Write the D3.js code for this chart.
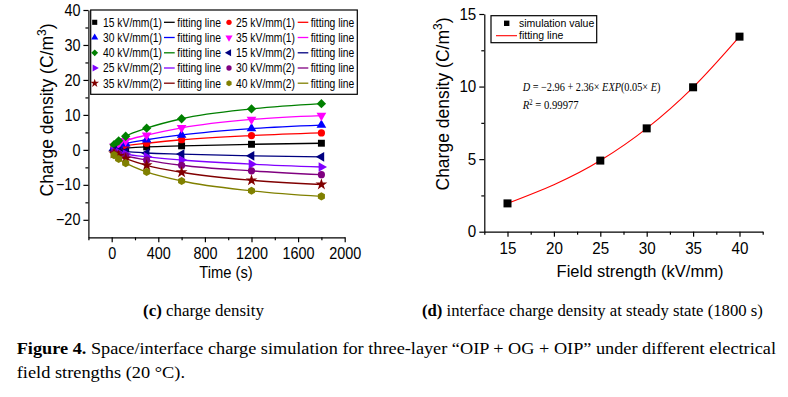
<!DOCTYPE html>
<html><head><meta charset="utf-8">
<script src="https://cdn.jsdelivr.net/npm/d3@7"></script>
<style>body{margin:0;background:#fff}svg{display:block}</style>
</head><body>
<svg id="c" width="788" height="397"></svg>
<script>
// ---------- data: panel (c) ----------
const times = [20, 60, 120, 300, 600, 1200, 1800];
const seriesLabels = ["15 kV/mm(1)", "25 kV/mm(1)", "30 kV/mm(1)", "35 kV/mm(1)", "40 kV/mm(1)",
                      "15 kV/mm(2)", "25 kV/mm(2)", "30 kV/mm(2)", "35 kV/mm(2)", "40 kV/mm(2)"];
const s15a = [0.2, 0.35, 0.5, 0.85, 1.15, 1.6, 1.9];
const s25a = [0.5, 0.8, 1.2, 1.9, 2.9, 4.1, 4.85];
const s30a = [0.7, 1.2, 1.8, 2.9, 4.3, 6.1, 7.1];
const s35a = [1.0, 1.7, 2.6, 4.2, 6.3, 8.7, 9.8];
const s40a = [1.5, 2.6, 3.9, 6.2, 8.9, 11.7, 13.2];
const s15b = [-0.2, -0.35, -0.5, -0.9, -1.2, -1.7, -2.0];
const s25b = [-0.5, -0.8, -1.2, -2.0, -2.9, -4.1, -4.9];
const s30b = [-0.7, -1.2, -1.7, -2.9, -4.4, -6.0, -7.1];
const s35b = [-1.0, -1.7, -2.5, -4.4, -6.4, -8.7, -9.9];
const s40b = [-1.5, -2.6, -3.8, -6.3, -8.9, -11.7, -13.3];
const seriesValues = [s15a, s25a, s30a, s35a, s40a, s15b, s25b, s30b, s35b, s40b];
const xTicksC = [0, 400, 800, 1200, 1600, 2000];
const xMinorC = [-200, 200, 600, 1000, 1400, 1800];
const yTicksC = [-20, -10, 0, 10, 20, 30, 40];
const yMinorC = [-15, -5, 5, 15, 25, 35];

// ---------- data: panel (d) ----------
const fields = [15, 25, 30, 35, 40];
const steadyDensity = [1.95, 4.9, 7.12, 9.95, 13.44];
const xTicksD = [15, 20, 25, 30, 35, 40];
const xMinorD = [12.5, 17.5, 22.5, 27.5, 32.5, 37.5, 42.5];
const yTicksD = [0, 5, 10, 15];
const yMinorD = [2.5, 7.5, 12.5];

// ---------- styles ----------
const colors = ["#000000", "#ff0000", "#0000ff", "#ff00ff", "#008000",
                "#000080", "#8000ff", "#800080", "#800000", "#808000"];
const hexagon = {draw(ctx, size) {
  const r = Math.sqrt(size / (1.5 * Math.sqrt(3)));
  for (let i = 0; i < 6; i++) {
    const a = Math.PI / 3 * i - Math.PI / 2;
    if (i === 0) ctx.moveTo(r * Math.cos(a), r * Math.sin(a)); else ctx.lineTo(r * Math.cos(a), r * Math.sin(a));
  }
  ctx.closePath();
}};
// [symbolType, rotation, size factor]
const markers = [
  [d3.symbolSquare, 0, 1], [d3.symbolCircle, 0, 0.85], [d3.symbolTriangle, 0, 0.85], [d3.symbolTriangle, 180, 0.85],
  [d3.symbolSquare, 45, 0.9], [d3.symbolTriangle, -90, 0.85], [d3.symbolTriangle, 90, 0.85], [d3.symbolCircle, 0, 0.85],
  [d3.symbolStar, 0, 0.9], [hexagon, 0, 0.9]
];

const svg = d3.select("#c");
const SANS = "'Liberation Sans', Arial, sans-serif";
const SERIF = "'Liberation Serif', 'Times New Roman', serif";

function squeezeTicks(g, sx) {
  g.selectAll(".tick text").each(function() {
    const t = d3.select(this);
    const x = +t.attr("x") || 0;
    t.attr("x", 0).attr("transform", `translate(${x},0) scale(${sx},1)`);
  });
}
function styleAxis(g, fs, sx, isBottom, yoff) {
  g.select(".domain").attr("stroke", "#000").attr("stroke-width", 1.2);
  g.selectAll(".tick line").attr("stroke", "#000").attr("stroke-width", 1.2);
  g.selectAll(".tick text").attr("font-family", SANS).attr("font-size", fs).attr("fill", "#000");
  if (isBottom) g.selectAll(".tick text").attr("y", yoff).attr("dy", "0");
  squeezeTicks(g, sx);
}

// ================= Panel (c) =================
const xC = d3.scaleLinear().domain([-200, 2000]).range([88.4, 344.7]);
const yC = d3.scaleLinear().domain([-25, 40]).range([237.3, 10]);
const gC = svg.append("g");

// minor ticks
gC.append("g").attr("transform", `translate(0,${yC(-25)})`)
  .call(d3.axisBottom(xC).tickValues(xMinorC).tickSize(3).tickSizeOuter(0).tickFormat(""))
  .call(g => { g.select(".domain").remove(); g.selectAll("line").attr("stroke", "#000").attr("stroke-width", 1.2); });
gC.append("g").attr("transform", `translate(${xC(-200)},0)`)
  .call(d3.axisLeft(yC).tickValues(yMinorC).tickSize(3).tickSizeOuter(0).tickFormat(""))
  .call(g => { g.select(".domain").remove(); g.selectAll("line").attr("stroke", "#000").attr("stroke-width", 1.2); });
// major
gC.append("g").attr("transform", `translate(0,${yC(-25)})`)
  .call(d3.axisBottom(xC).tickValues(xTicksC).tickSize(5).tickSizeOuter(0).tickFormat(d3.format("d")))
  .call(g => styleAxis(g, 16, 0.9, true, 22));
gC.append("g").attr("transform", `translate(${xC(-200)},0)`)
  .call(d3.axisLeft(yC).tickValues(yTicksC).tickSize(5).tickSizeOuter(0).tickPadding(3).tickFormat(d3.format("d")))
  .call(g => styleAxis(g, 16, 0.9, false));

// axis titles
gC.append("text").attr("transform", "translate(226,277.5) scale(0.92,1)")
  .attr("text-anchor", "middle").attr("font-family", SANS).attr("font-size", 16).text("Time (s)");
const ytC = gC.append("text").attr("transform", "translate(46.5,110) rotate(-90)")
  .attr("text-anchor", "middle").attr("dy", "0.36em").attr("font-family", SANS).attr("font-size", 17.5);
ytC.append("tspan").text("Charge density (C/m");
ytC.append("tspan").attr("font-size", 12).attr("baseline-shift", "super").text("3");
ytC.append("tspan").text(")");

// lines
const lineC = d3.line().x(d => xC(d[0])).y(d => yC(d[1])).curve(d3.curveMonotoneX);
seriesValues.forEach((vals, i) => {
  const pts = [[0, 0]].concat(times.map((t, j) => [t, vals[j]]));
  gC.append("path").attr("d", lineC(pts)).attr("fill", "none")
    .attr("stroke", colors[i]).attr("stroke-width", 1.3);
});
seriesValues.forEach((vals, i) => {
  const [type, rot, k] = markers[i];
  const sym = d3.symbol().type(type).size(48 * k);
  gC.append("g").selectAll("path").data(times.map((t, j) => [t, vals[j]])).join("path")
    .attr("d", sym)
    .attr("transform", d => `translate(${xC(d[0])},${yC(d[1])}) rotate(${rot})`)
    .attr("fill", colors[i]);
});

// legend
const legC = gC.append("g");
legC.append("rect").attr("x", 90.7).attr("y", 10).attr("width", 266.6).attr("height", 84.3)
  .attr("fill", "#fff").attr("stroke", "#000").attr("stroke-width", 1.2);
const rowY = [22.3, 37.5, 52.8, 68.0, 83.2];
const colX = [{m: 94.7, t: 103, l1: 164, l2: 174.7, f: 177.3}, {m: 229, t: 236, l1: 297.7, l2: 308.3, f: 310.7}];
seriesLabels.forEach((lab, i) => {
  const row = Math.floor(i / 2), col = i % 2;
  const c = colX[col], y = rowY[row];
  const [type, rot, k] = markers[i];
  legC.append("path").attr("d", d3.symbol().type(type).size(26 * k)())
    .attr("transform", `translate(${c.m},${y}) rotate(${rot})`).attr("fill", colors[i]);
  legC.append("text").attr("transform", `translate(${c.t},${y + 4.3}) scale(0.86,1)`)
    .attr("font-family", SANS).attr("font-size", 12).text(lab);
  legC.append("line").attr("x1", c.l1).attr("x2", c.l2).attr("y1", y).attr("y2", y)
    .attr("stroke", colors[i]).attr("stroke-width", 1.3);
  legC.append("text").attr("transform", `translate(${c.f},${y + 4.3}) scale(0.86,1)`)
    .attr("font-family", SANS).attr("font-size", 12).text("fitting line");
});

// ================= Panel (d) =================
const xD = d3.scaleLinear().domain([12.5, 42.5]).range([484.3, 762.7]);
const yD = d3.scaleLinear().domain([0, 15]).range([231.7, 14]);
const gD = svg.append("g");
gD.append("g").attr("transform", `translate(0,${yD(0)})`)
  .call(d3.axisBottom(xD).tickValues(xMinorD).tickSize(3).tickSizeOuter(0).tickFormat(""))
  .call(g => { g.select(".domain").remove(); g.selectAll("line").attr("stroke", "#000").attr("stroke-width", 1.2); });
gD.append("g").attr("transform", `translate(${xD(12.5)},0)`)
  .call(d3.axisLeft(yD).tickValues(yMinorD).tickSize(3).tickSizeOuter(0).tickFormat(""))
  .call(g => { g.select(".domain").remove(); g.selectAll("line").attr("stroke", "#000").attr("stroke-width", 1.2); });
gD.append("g").attr("transform", `translate(0,${yD(0)})`)
  .call(d3.axisBottom(xD).tickValues(xTicksD).tickSize(5).tickSizeOuter(0).tickFormat(d3.format("d")))
  .call(g => styleAxis(g, 16, 0.95, true, 22.5));
gD.append("g").attr("transform", `translate(${xD(12.5)},0)`)
  .call(d3.axisLeft(yD).tickValues(yTicksD).tickSize(5).tickSizeOuter(0).tickPadding(3).tickFormat(d3.format("d")))
  .call(g => styleAxis(g, 16, 0.95, false));

gD.append("text").attr("transform", "translate(640,277)")
  .attr("text-anchor", "middle").attr("font-family", SANS).attr("font-size", 16.5).text("Field strength (kV/mm)");
const ytD = gD.append("text").attr("transform", "translate(443,104) rotate(-90)")
  .attr("text-anchor", "middle").attr("dy", "0.36em").attr("font-family", SANS).attr("font-size", 17.5);
ytD.append("tspan").text("Charge density (C/m");
ytD.append("tspan").attr("font-size", 12).attr("baseline-shift", "super").text("3");
ytD.append("tspan").text(")");

const lineD = d3.line().x(d => xD(d[0])).y(d => yD(d[1])).curve(d3.curveMonotoneX);
gD.append("path").attr("d", lineD(fields.map((f, i) => [f, steadyDensity[i]])))
  .attr("fill", "none").attr("stroke", "#ff0000").attr("stroke-width", 1.1);
gD.append("g").selectAll("rect").data(fields.map((f, i) => [f, steadyDensity[i]])).join("rect")
  .attr("x", d => xD(d[0]) - 4).attr("y", d => yD(d[1]) - 4).attr("width", 8).attr("height", 8).attr("fill", "#000");

// legend (d)
gD.append("rect").attr("x", 491).attr("y", 15.7).attr("width", 105.7).attr("height", 27)
  .attr("fill", "#fff").attr("stroke", "#000").attr("stroke-width", 1.2);
gD.append("rect").attr("x", 504).attr("y", 20.6).attr("width", 5.4).attr("height", 5.4).attr("fill", "#000");
gD.append("text").attr("x", 519).attr("y", 27).attr("font-family", SANS).attr("font-size", 10.5).text("simulation value");
gD.append("line").attr("x1", 496).attr("x2", 517).attr("y1", 35.7).attr("y2", 35.7).attr("stroke", "#ff0000").attr("stroke-width", 1.1);
gD.append("text").attr("x", 519).attr("y", 39.4).attr("font-family", SANS).attr("font-size", 10.5).text("fitting line");

// equation
function eqText(parts, x, y, target) {
  const t = gD.append("text").attr("font-family", SERIF).attr("font-size", 12).attr("fill", "#000");
  parts.forEach(p => {
    const s = t.append("tspan").text(p[0]);
    if (p[1] === "i") s.attr("font-style", "italic");
    if (p[1] === "sup") s.attr("font-size", 7.5).attr("baseline-shift", "super");
  });
  const w = t.node().getComputedTextLength();
  t.attr("transform", `translate(${x},${y}) scale(${target / w},1)`);
}
eqText([["D", "i"], [" = \u22122.96 + 2.36\u00D7 ", ""], ["EXP", "i"], ["(0.05\u00D7 ", ""], ["E", "i"], [")", ""]], 522.7, 91, 138);
eqText([["R", "i"], ["2", "sup"], [" = 0.99977", ""]], 522.7, 109, 56);

// ================= captions =================
function caption(parts, x, y, target) {
  const t = svg.append("text").attr("font-family", SERIF).attr("font-size", 16.5).attr("fill", "#000");
  parts.forEach(p => t.append("tspan").attr("font-weight", p[1] ? "bold" : "normal").text(p[0]));
  const w = t.node().getComputedTextLength();
  t.attr("transform", `translate(${x},${y}) scale(${target / w},1)`);
}
caption([["(c)", true], [" charge density", false]], 143, 316, 121);
caption([["(d)", true], [" interface charge density at steady state (1800 s)", false]], 422, 316, 341);
caption([["Figure 4.", true], [" Space/interface charge simulation for three-layer \u201COIP + OG + OIP\u201D under different electrical", false]], 16.7, 354, 760);
caption([["field strengths (20 \u00B0C).", false]], 16.7, 378, 168.5);
</script>
</body></html>
